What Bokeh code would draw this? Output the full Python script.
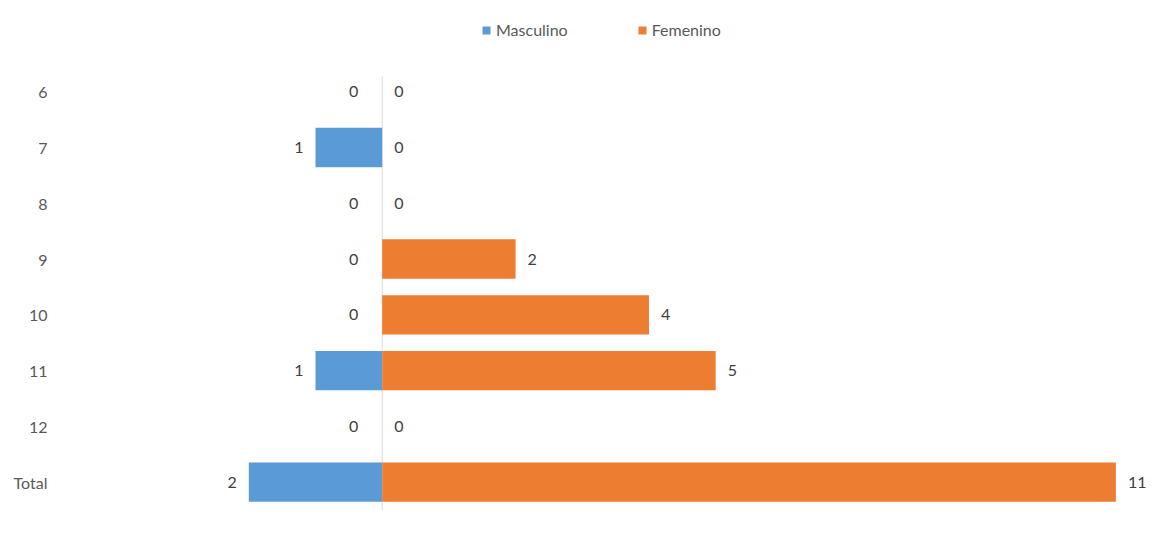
from bokeh.plotting import figure
from bokeh.models import ColumnDataSource, Range1d, Legend, LegendItem, FixedTicker
from bokeh.core.properties import value
from bokeh.embed import file_html
from bokeh.resources import INLINE

categories = ["6", "7", "8", "9", "10", "11", "12", "Total"]
masculino = [0, 1, 0, 0, 0, 1, 0, 2]
femenino = [0, 0, 0, 2, 4, 5, 0, 11]

FONT = "Lato"
BLUE = "#5B9BD5"
ORANGE = "#ED7D31"

idx = list(range(len(categories)))
src = ColumnDataSource(dict(
    y=idx,
    cat=categories,
    m_neg=[-v for v in masculino],
    m=masculino,
    f=femenino,
    m_txt=[str(v) for v in masculino],
    f_txt=[str(v) for v in femenino],
    m_off=[-12 if v > 0 else -24 for v in masculino],
))

p = figure(width=1161, height=531, output_backend="svg", toolbar_location=None,
           x_range=Range1d(-4.898, 11.669), y_range=Range1d(7.8666, -1.4916),
           x_axis_location=None, min_border_left=55, min_border_right=1,
           min_border_top=8, min_border_bottom=1)
p.outline_line_color = None
p.xgrid.visible = False
p.ygrid.visible = False
p.background_fill_color = "white"
p.border_fill_color = "white"

p.segment(x0=[0], y0=[-0.2725], x1=[0], y1=[7.51], line_color="#D9D9D9", line_width=1)

rm = p.hbar(y="y", left="m_neg", right=0, height=0.706, source=src,
            fill_color=BLUE, line_color=None)
rf = p.hbar(y="y", left=0, right="f", height=0.706, source=src,
            fill_color=ORANGE, line_color=None)

p.text(x="m_neg", y="y", text="m_txt", source=src, x_offset="m_off",
       text_align="right", text_baseline="middle", text_font=value(FONT),
       text_font_size="16px", text_color="#404040")
p.text(x="f", y="y", text="f_txt", source=src, x_offset=12,
       text_align="left", text_baseline="middle", text_font=value(FONT),
       text_font_size="16px", text_color="#404040")

ax = p.yaxis[0]
ax.ticker = FixedTicker(ticks=idx)
ax.major_label_overrides = {i: c for i, c in zip(idx, categories)}
ax.axis_line_color = None
ax.major_tick_line_color = None
ax.minor_tick_line_color = None
ax.major_tick_out = 0
ax.major_label_standoff = 8
ax.major_label_text_font = FONT
ax.major_label_text_font_size = "16px"
ax.major_label_text_color = "#595959"

legend = Legend(items=[LegendItem(label="Masculino", renderers=[rm]),
                       LegendItem(label="Femenino", renderers=[rf])],
                orientation="horizontal", location=(426, 491),
                padding=0, margin=0, spacing=69, label_standoff=5,
                glyph_width=10, glyph_height=10, label_height=10,
                border_line_alpha=0, background_fill_alpha=0,
                label_text_font=FONT, label_text_font_size="16px",
                label_text_color="#595959")
p.add_layout(legend, "center")

open("out.html", "w").write(file_html(p, INLINE))
